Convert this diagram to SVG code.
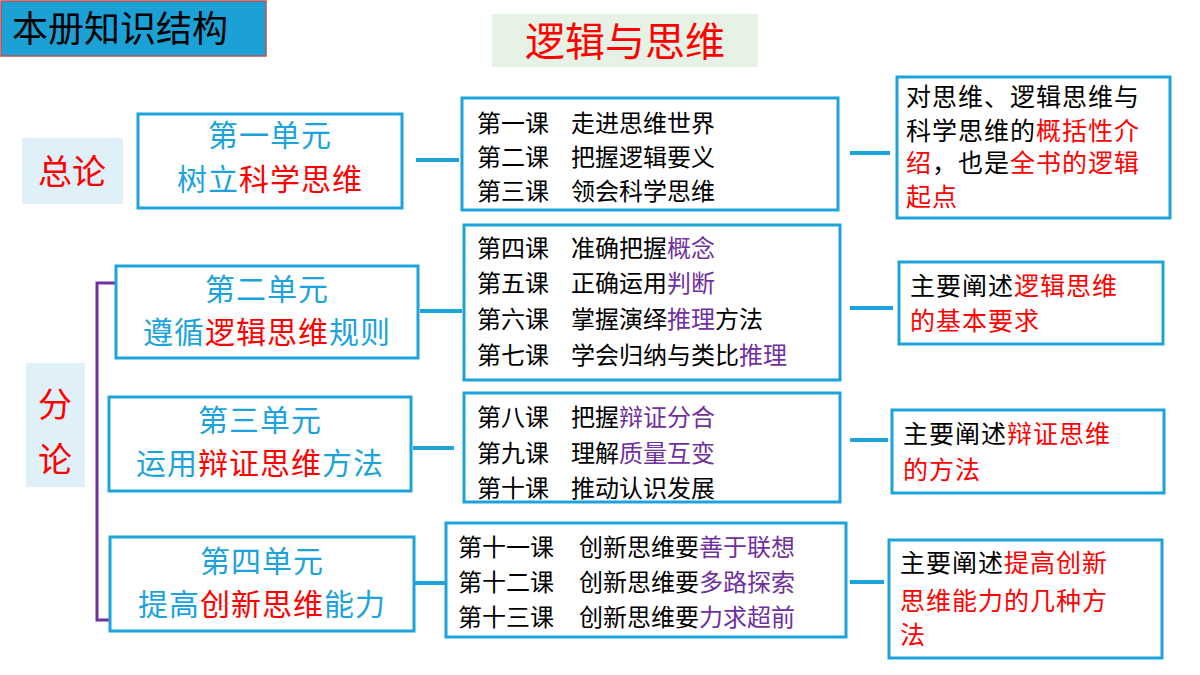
<svg xmlns="http://www.w3.org/2000/svg" width="1200" height="675" viewBox="0 0 1200 675">
<style>
text{font-family:"Noto Sans CJK SC","Noto Sans",sans-serif}
.box{fill:#fff;stroke:#1ca3dc;stroke-width:3}
.u{font-size:30px;fill:#1ca3dc;text-anchor:middle;letter-spacing:1px}
.l{font-size:24px;fill:#000}
.r{font-size:25px;fill:#000;letter-spacing:1px}
.red{fill:#f00}
.pur{fill:#7030a0}
.con{stroke:#1ca3dc;stroke-width:4;fill:none}
</style>
<rect width="1200" height="675" fill="#fff"/>
<g id="title"><rect x="1" y="1" width="265" height="55" fill="#1ba1d6" stroke="#c0504d" stroke-width="1.5"/><text x="12" y="42" style="font-size:36px" fill="#000">本册知识结构</text></g>
<g id="main"><rect x="492" y="14" width="266" height="53" fill="#e6f2e6"/><text x="625" y="56" text-anchor="middle" style="font-size:40px" class="red">逻辑与思维</text></g>
<g id="zonglun"><rect x="22" y="138" width="101" height="66" fill="#dff0f8"/><text x="72" y="184" text-anchor="middle" style="font-size:34px" class="red">总论</text></g>
<g id="fenlun"><rect x="26" y="363" width="59" height="124" fill="#dff0f8"/><text x="55" y="417" text-anchor="middle" style="font-size:34px" class="red">分</text><text x="55" y="472" text-anchor="middle" style="font-size:34px" class="red">论</text></g>
<g id="connectors">
<path d="M116 283H97V620H110" stroke="#7030a0" stroke-width="3" fill="none"/>
<path class="con" d="M416 160H459M420 311H462M413 448H454M414 583H447M850 153H890M850 308H893M850 440H888M850 582H884"/>
</g>
<g id="u1"><rect class="box" x="138" y="114" width="264" height="94"/><text class="u" x="270" y="146">第一单元</text><text class="u" x="270" y="190">树立<tspan class="red">科学思维</tspan></text></g>
<g id="u2"><rect class="box" x="116" y="266" width="302" height="92"/><text class="u" x="267" y="300">第二单元</text><text class="u" x="267" y="343">遵循<tspan class="red">逻辑思维</tspan>规则</text></g>
<g id="u3"><rect class="box" x="109" y="397" width="302" height="94"/><text class="u" x="260" y="431">第三单元</text><text class="u" x="260" y="474">运用<tspan class="red">辩证思维</tspan>方法</text></g>
<g id="u4"><rect class="box" x="110" y="537" width="304" height="94"/><text class="u" x="262" y="572">第四单元</text><text class="u" x="262" y="615">提高<tspan class="red">创新思维</tspan>能力</text></g>
<g id="l1"><rect class="box" x="462" y="98" width="376" height="112"/><text class="l" x="477" y="132">第一课<tspan x="571">走进思维世界</tspan></text><text class="l" x="477" y="166">第二课<tspan x="571">把握逻辑要义</tspan></text><text class="l" x="477" y="200">第三课<tspan x="571">领会科学思维</tspan></text></g>
<g id="l2"><rect class="box" x="464" y="225" width="376" height="155"/><text class="l" x="477" y="257">第四课<tspan x="571">准确把握</tspan><tspan class="pur">概念</tspan></text><text class="l" x="477" y="292">第五课<tspan x="571">正确运用</tspan><tspan class="pur">判断</tspan></text><text class="l" x="477" y="328">第六课<tspan x="571">掌握演绎</tspan><tspan class="pur">推理</tspan>方法</text><text class="l" x="477" y="364">第七课<tspan x="571">学会归纳与类比</tspan><tspan class="pur">推理</tspan></text></g>
<g id="l3"><rect class="box" x="464" y="393" width="376" height="109"/><text class="l" x="477" y="426">第八课<tspan x="571">把握</tspan><tspan class="pur">辩证分合</tspan></text><text class="l" x="477" y="462">第九课<tspan x="571">理解</tspan><tspan class="pur">质量互变</tspan></text><text class="l" x="477" y="497">第十课<tspan x="571">推动认识发展</tspan></text></g>
<g id="l4"><rect class="box" x="446" y="523" width="400" height="114"/><text class="l" x="458" y="556">第十一课<tspan x="579">创新思维要</tspan><tspan class="pur">善于联想</tspan></text><text class="l" x="458" y="591">第十二课<tspan x="579">创新思维要</tspan><tspan class="pur">多路探索</tspan></text><text class="l" x="458" y="626">第十三课<tspan x="579">创新思维要</tspan><tspan class="pur">力求超前</tspan></text></g>
<g id="r1"><rect class="box" x="897" y="77" width="273" height="141"/><text class="r" x="906" y="106">对思维、逻辑思维与</text><text class="r" x="906" y="140">科学思维的<tspan class="red">概括性介</tspan></text><text class="r" x="906" y="172"><tspan class="red">绍</tspan>，也是<tspan class="red">全书的逻辑</tspan></text><text class="r" x="906" y="206"><tspan class="red">起点</tspan></text></g>
<g id="r2"><rect class="box" x="899" y="262" width="264" height="82"/><text class="r" x="910" y="295">主要阐述<tspan class="red">逻辑思维</tspan></text><text class="r" x="910" y="330"><tspan class="red">的基本要求</tspan></text></g>
<g id="r3"><rect class="box" x="892" y="410" width="272" height="83"/><text class="r" x="903" y="443">主要阐述<tspan class="red">辩证思维</tspan></text><text class="r" x="903" y="479"><tspan class="red">的方法</tspan></text></g>
<g id="r4"><rect class="box" x="889" y="540" width="273" height="118"/><text class="r" x="900" y="572">主要阐述<tspan class="red">提高创新</tspan></text><text class="r" x="900" y="610"><tspan class="red">思维能力的几种方</tspan></text><text class="r" x="900" y="644"><tspan class="red">法</tspan></text></g>
</svg>
